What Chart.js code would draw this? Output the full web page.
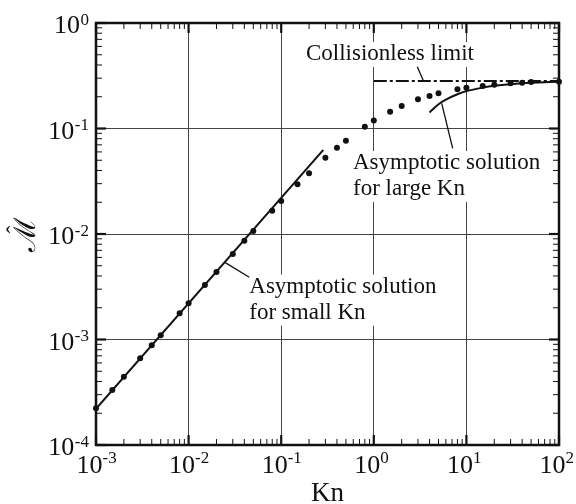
<!DOCTYPE html>
<html>
<head>
<meta charset="utf-8">
<script src="https://cdn.jsdelivr.net/npm/chart.js@4.4.1/dist/chart.umd.min.js"></script>
<style>
    html, body { margin: 0; padding: 0; background: #fff; }
    #wrap { width: 576px; height: 504px; }
</style>
</head>
<body>
<div id="wrap"><canvas id="chart" width="576" height="504"></canvas></div>
<script>
// numerical solution (dots)
const knNumeric = [0.001, 0.0015, 0.002, 0.003, 0.004, 0.005, 0.008,
    0.01, 0.015, 0.02, 0.03, 0.04, 0.05, 0.08,
    0.1, 0.15, 0.2, 0.3, 0.4, 0.5, 0.8,
    1, 1.5, 2, 3, 4, 5, 8,
    10, 15, 20, 30, 40, 50, 100];
const mNumeric = [2.23e-4, 3.32e-4, 4.44e-4, 6.63e-4, 8.81e-4, 1.10e-3, 1.77e-3,
    2.20e-3, 3.29e-3, 4.36e-3, 6.46e-3, 8.64e-3, 1.07e-2, 1.66e-2,
    2.05e-2, 2.96e-2, 3.76e-2, 5.29e-2, 6.58e-2, 7.66e-2, 0.104,
    0.119, 0.144, 0.163, 0.189, 0.203, 0.216, 0.235,
    0.244, 0.253, 0.260, 0.268, 0.272, 0.276, 0.278];

// asymptotic solution for small Kn
const knSmall = [0.001, 0.285];
const mSmall = [0.00022, 0.0627];

// asymptotic solution for large Kn
const knLarge = [4, 5, 6, 8, 10, 15, 20, 30, 50, 100];
const mLarge = [0.142, 0.170, 0.188, 0.211, 0.226, 0.244, 0.254, 0.263, 0.271, 0.277];

// collisionless limit
const knFree = [1, 100];
const mFree = [0.282, 0.282];

// tick labels
const xDecades = [1e-3, 1e-2, 1e-1, 1, 10, 100];
const xExponents = ['-3', '-2', '-1', '0', '1', '2'];
const yDecades = [1e-4, 1e-3, 1e-2, 1e-1, 1];
const yExponents = ['-4', '-3', '-2', '-1', '0'];

const SERIF = '"Liberation Serif", "DejaVu Serif", serif';

// text labels with leader lines, positioned in data coordinates
const notes = [
    {
        lines: ['Collisionless limit'],
        at: [0.185, 0.446],
        leader: [[2.95, 0.385], [3.43, 0.284]]
    },
    {
        lines: ['Asymptotic solution', 'for large Kn'],
        at: [0.596, 0.0413],
        leader: [[7.11, 0.0649], [5.41, 0.173]]
    },
    {
        lines: ['Asymptotic solution', 'for small Kn'],
        at: [0.0452, 0.00278],
        leader: [[0.0249, 0.00535], [0.0452, 0.00389]]
    }
];

function zip(xs, ys) {
    return xs.map((x, i) => ({ x, y: ys[i] }));
}

function minorValues(decades) {
    const out = [];
    for (let i = 0; i < decades.length - 1; i++) {
        for (let k = 2; k <= 9; k++) {
            out.push(decades[i] * k);
        }
    }
    return out;
}

// white-boxed notes, drawn over the grid but under the data
const notesPlugin = {
    id: 'notes',
    beforeDatasetsDraw(chart) {
        const { ctx, scales: { x, y } } = chart;
        const lineHeight = 26;
        ctx.save();
        ctx.font = `23px ${SERIF}`;
        ctx.textAlign = 'left';
        ctx.textBaseline = 'alphabetic';

        for (const note of notes) {
            const px = x.getPixelForValue(note.at[0]);
            const py = y.getPixelForValue(note.at[1]);
            const width = Math.max(...note.lines.map(l => ctx.measureText(l).width));

            ctx.fillStyle = '#fff';
            ctx.fillRect(px - 3, py - 18, width + 6, lineHeight * (note.lines.length - 1) + 25);

            ctx.fillStyle = '#111';
            note.lines.forEach((line, i) => ctx.fillText(line, px, py + i * lineHeight));

            ctx.strokeStyle = '#111';
            ctx.lineWidth = 1.3;
            ctx.beginPath();
            ctx.moveTo(x.getPixelForValue(note.leader[0][0]), y.getPixelForValue(note.leader[0][1]));
            ctx.lineTo(x.getPixelForValue(note.leader[1][0]), y.getPixelForValue(note.leader[1][1]));
            ctx.stroke();
        }
        ctx.restore();
    }
};

// frame, inward ticks, power-of-ten labels and axis titles
const framePlugin = {
    id: 'frame',
    afterDraw(chart) {
        const { ctx, chartArea: a, scales: { x, y } } = chart;
        ctx.save();
        ctx.strokeStyle = '#111';

        function tick(x0, y0, x1, y1, w) {
            ctx.lineWidth = w;
            ctx.beginPath();
            ctx.moveTo(x0, y0);
            ctx.lineTo(x1, y1);
            ctx.stroke();
        }

        for (const v of minorValues(xDecades)) {
            const p = x.getPixelForValue(v);
            tick(p, a.bottom, p, a.bottom - 6, 1);
            tick(p, a.top, p, a.top + 6, 1);
        }
        for (const v of xDecades) {
            const p = x.getPixelForValue(v);
            tick(p, a.bottom, p, a.bottom - 10, 2.2);
            tick(p, a.top, p, a.top + 10, 2.2);
        }
        for (const v of minorValues(yDecades)) {
            const p = y.getPixelForValue(v);
            tick(a.left, p, a.left + 6, p, 1);
            tick(a.right, p, a.right - 6, p, 1);
        }
        for (const v of yDecades) {
            const p = y.getPixelForValue(v);
            tick(a.left, p, a.left + 10, p, 2.2);
            tick(a.right, p, a.right - 10, p, 2.2);
        }

        ctx.lineWidth = 2.5;
        ctx.strokeRect(a.left, a.top, a.right - a.left, a.bottom - a.top);

        // tick labels: 10 with raised exponent
        ctx.fillStyle = '#111';
        ctx.textBaseline = 'alphabetic';
        xDecades.forEach((v, i) => {
            const p = x.getPixelForValue(v);
            ctx.font = `26px ${SERIF}`;
            ctx.textAlign = 'right';
            ctx.fillText('10', p + 6.5, a.bottom + 28);
            ctx.font = `17px ${SERIF}`;
            ctx.textAlign = 'left';
            ctx.fillText(xExponents[i], p + 6.5, a.bottom + 18);
        });
        yDecades.forEach((v, i) => {
            const p = y.getPixelForValue(v);
            ctx.font = `17px ${SERIF}`;
            ctx.textAlign = 'right';
            const expRight = a.left - 7;
            ctx.fillText(yExponents[i], expRight, p + 1.5);
            const expWidth = ctx.measureText(yExponents[i]).width;
            ctx.font = `26px ${SERIF}`;
            ctx.fillText('10', expRight - expWidth - 0.5, p + 10);
        });

        // axis titles
        ctx.font = `27px ${SERIF}`;
        ctx.textAlign = 'center';
        ctx.fillText('Kn', (a.left + a.right) / 2, 501);

        // rotated script M with a hat above it
        ctx.translate(23, (a.top + a.bottom) / 2);
        ctx.rotate(-Math.PI / 2);
        ctx.textBaseline = 'middle';
        ctx.font = `30px ${SERIF}`;
        ctx.fillText('\u2133', 0, 4);
        ctx.textBaseline = 'alphabetic';
        ctx.font = `24px ${SERIF}`;
        ctx.fillText('\u02C6', 4.5, 0);
        ctx.restore();
    }
};

function logAxis(min, max, decades, fitFn) {
    return {
        type: 'logarithmic',
        min,
        max,
        afterBuildTicks: scale => {
            scale.ticks = decades.map(value => ({ value }));
        },
        afterFit: fitFn,
        ticks: { display: false },
        grid: { color: '#444', lineWidth: 1, drawTicks: false },
        border: { display: false }
    };
}

new Chart(document.getElementById('chart'), {
    type: 'scatter',
    data: {
        datasets: [
            {
                label: 'numerical',
                data: zip(knNumeric, mNumeric),
                showLine: false,
                pointRadius: 3,
                pointBackgroundColor: '#111',
                pointBorderWidth: 0,
                clip: false
            },
            {
                label: 'small Kn',
                data: zip(knSmall, mSmall),
                showLine: true,
                borderColor: '#111',
                borderWidth: 2,
                pointRadius: 0
            },
            {
                label: 'large Kn',
                data: zip(knLarge, mLarge),
                showLine: true,
                borderColor: '#111',
                borderWidth: 2,
                pointRadius: 0,
                tension: 0.3
            },
            {
                label: 'collisionless',
                data: zip(knFree, mFree),
                showLine: true,
                borderColor: '#111',
                borderWidth: 2,
                borderDash: [13, 3, 3, 3],
                pointRadius: 0
            }
        ]
    },
    options: {
        responsive: false,
        animation: false,
        layout: { padding: { left: 0, top: 23, right: 17, bottom: 0 } },
        plugins: {
            legend: { display: false },
            tooltip: { enabled: false }
        },
        scales: {
            x: logAxis(1e-3, 100, xDecades, scale => { scale.height = 59; }),
            y: logAxis(1e-4, 1, yDecades, scale => { scale.width = 96; })
        }
    },
    plugins: [notesPlugin, framePlugin]
});
</script>
</body>
</html>
